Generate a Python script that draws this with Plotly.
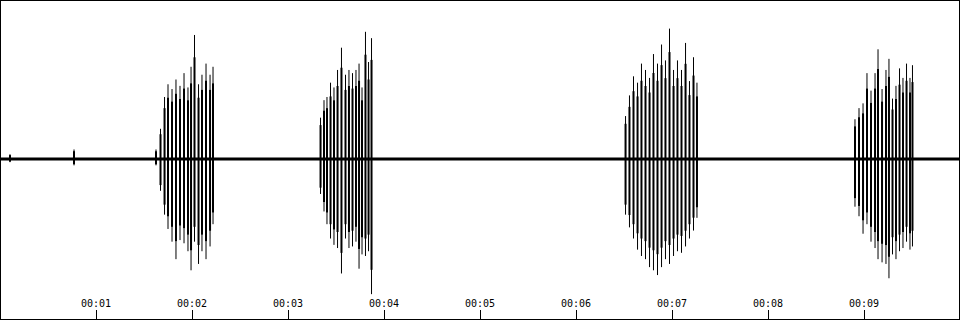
import plotly.graph_objects as go

# ---- data (time in seconds, amplitude normalised: +1 = full scale) ----
tick_vals = [1, 2, 3, 4, 5, 6, 7, 8, 9]
tick_text = ["00:01", "00:02", "00:03", "00:04", "00:05", "00:06", "00:07", "00:08", "00:09"]

burst1_t = [1.625, 1.672, 1.714, 1.750, 1.792, 1.833, 1.875, 1.917, 1.958, 1.990, 2.026, 2.068, 2.104, 2.146, 2.188, 2.219]
burst1_up = [0.06, 0.19, 0.39, 0.47, 0.44, 0.50, 0.46, 0.54, 0.45, 0.58, 0.78, 0.47, 0.53, 0.60, 0.53, 0.58]
burst1_dn = [0.04, 0.20, 0.35, 0.44, 0.52, 0.63, 0.51, 0.53, 0.58, 0.70, 0.52, 0.66, 0.58, 0.63, 0.55, 0.41]

burst2_t = [3.339, 3.375, 3.406, 3.443, 3.479, 3.516, 3.557, 3.599, 3.635, 3.672, 3.708, 3.740, 3.771, 3.807, 3.839, 3.870]
burst2_up = [0.26, 0.37, 0.39, 0.48, 0.45, 0.56, 0.70, 0.53, 0.56, 0.54, 0.56, 0.60, 0.45, 0.80, 0.61, 0.76]
burst2_dn = [0.22, 0.33, 0.41, 0.50, 0.54, 0.56, 0.72, 0.50, 0.56, 0.55, 0.52, 0.69, 0.60, 0.61, 0.58, 0.85]

burst3_t = [6.516, 6.557, 6.599, 6.641, 6.682, 6.724, 6.766, 6.807, 6.849, 6.891, 6.932, 6.974, 7.016, 7.057, 7.099, 7.141, 7.182, 7.224, 7.260]
burst3_up = [0.27, 0.40, 0.52, 0.48, 0.60, 0.56, 0.51, 0.66, 0.60, 0.72, 0.62, 0.82, 0.56, 0.62, 0.56, 0.73, 0.49, 0.64, 0.48]
burst3_dn = [0.35, 0.43, 0.50, 0.57, 0.61, 0.63, 0.68, 0.70, 0.73, 0.68, 0.63, 0.66, 0.61, 0.58, 0.59, 0.55, 0.50, 0.45, 0.37]

burst4_t = [8.906, 8.948, 8.990, 9.031, 9.073, 9.115, 9.146, 9.188, 9.229, 9.260, 9.297, 9.333, 9.370, 9.406, 9.443, 9.479, 9.505]
burst4_up = [0.25, 0.32, 0.35, 0.54, 0.43, 0.54, 0.69, 0.44, 0.56, 0.63, 0.38, 0.46, 0.57, 0.51, 0.60, 0.51, 0.59]
burst4_dn = [0.30, 0.36, 0.47, 0.41, 0.52, 0.56, 0.63, 0.65, 0.66, 0.75, 0.60, 0.63, 0.58, 0.56, 0.52, 0.57, 0.55]

noise_t = [0.104, 0.771]
noise_up = [0.03, 0.06]
noise_dn = [0.02, 0.04]

duration = 10.0
body_ratio = 0.82

# ---- build traces ----
all_t = burst1_t + burst2_t + burst3_t + burst4_t + noise_t
all_up = burst1_up + burst2_up + burst3_up + burst4_up + noise_up
all_dn = burst1_dn + burst2_dn + burst3_dn + burst4_dn + noise_dn

thin_x, thin_y, thick_x, thick_y = [], [], [], []
for t, u, d in zip(all_t, all_up, all_dn):
    thin_x += [t, t, None]
    thin_y += [u, -d, None]
    thick_x += [t, t, None]
    thick_y += [u * body_ratio, -d * body_ratio, None]

fig = go.Figure()
fig.add_trace(go.Scatter(x=[0, duration], y=[0, 0], mode="lines",
                         line=dict(color="black", width=3), hoverinfo="skip"))
fig.add_trace(go.Scatter(x=thin_x, y=thin_y, mode="lines",
                         line=dict(color="black", width=1), hoverinfo="skip"))
fig.add_trace(go.Scatter(x=thick_x, y=thick_y, mode="lines",
                         line=dict(color="black", width=2), hoverinfo="skip"))

fig.update_layout(
    template="none",
    width=960, height=320,
    margin=dict(l=0, r=0, t=0, b=0),
    paper_bgcolor="white", plot_bgcolor="white",
    font=dict(color="black"),
    showlegend=False,
    xaxis=dict(range=[0, duration], showgrid=False, zeroline=False, showline=False,
               tickmode="array", tickvals=tick_vals, ticktext=tick_text,
               ticks="inside", ticklen=10, tickwidth=1, tickcolor="black",
               ticklabelposition="inside",
               tickfont=dict(family="DejaVu Sans Mono", size=10, color="black")),
    yaxis=dict(range=[-161 / 159, 1.0], showgrid=False, zeroline=False,
               showline=False, showticklabels=False, ticks=""),
    shapes=[dict(type="rect", xref="paper", yref="paper", x0=0, x1=1, y0=0, y1=1,
                 line=dict(color="black", width=2))],
)

fig.write_html("out.html")
